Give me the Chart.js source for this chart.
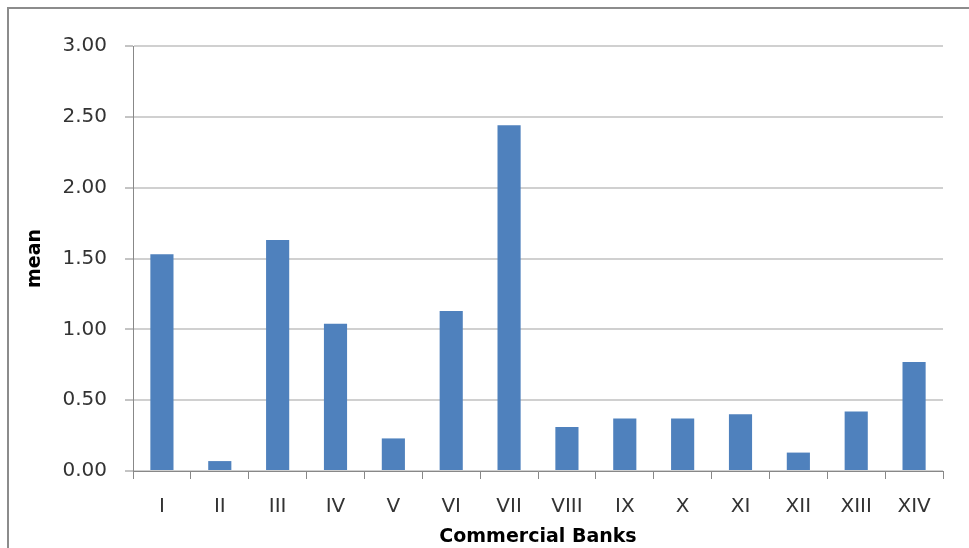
<!DOCTYPE html>
<html>
<head>
<meta charset="utf-8">
<script src="https://cdn.jsdelivr.net/npm/chart.js@4"></script>
<style>
  html, body { margin: 0; padding: 0; background: #fff; }
  #wrap { position: relative; width: 969px; height: 548px; }
  #frame {
    position: absolute; left: 7px; top: 7px; right: -5px; bottom: -5px;
    border-top: 2px solid #8c8c8c; border-left: 2px solid #8c8c8c;
    pointer-events: none;
  }
</style>
</head>
<body>
<div id="wrap">
  <canvas id="chart" width="969" height="548"></canvas>
  <div id="frame"></div>
</div>
<script>
const banks = ['I', 'II', 'III', 'IV', 'V', 'VI', 'VII', 'VIII', 'IX', 'X', 'XI', 'XII', 'XIII', 'XIV'];
const means = [1.53, 0.07, 1.63, 1.04, 0.23, 1.13, 2.44, 0.31, 0.37, 0.37, 0.40, 0.13, 0.42, 0.77];
const yTicks = [0, 0.5, 1, 1.5, 2, 2.5, 3];

const barBlue = '#4f81bd';
const axisGray = '#888888';
const gridGray = '#d0d0d0';
const labelFont = { family: 'DejaVu Sans', size: 20 };

const ctx = document.getElementById('chart').getContext('2d');
const chart = new Chart(ctx, {
    type: 'bar',
    data: {
        labels: banks,
        datasets: [{
            label: 'mean',
            data: means,
            backgroundColor: barBlue,
            barPercentage: 0.4,
            categoryPercentage: 1.0
        }]
    },
    options: {
        responsive: false,
        animation: false,
        layout: { padding: { left: 24, right: 26, top: 46, bottom: 0 } },
        plugins: {
            legend: { display: false },
            tooltip: { enabled: false }
        },
        scales: {
            x: {
                grid: {
                    offset: true,
                    drawOnChartArea: false,
                    color: axisGray,
                    tickLength: 8
                },
                border: { color: axisGray, width: 1 },
                ticks: {
                    color: '#333',
                    font: labelFont,
                    padding: 16,
                    maxRotation: 0
                },
                title: {
                    display: true,
                    text: 'Commercial Banks',
                    color: '#000',
                    font: { family: 'DejaVu Sans', size: 19, weight: 'bold' },
                    padding: { top: 0, bottom: 0 }
                },
                afterFit: s => { s.height = 77; }
            },
            y: {
                min: 0,
                max: 3,
                afterBuildTicks: s => { s.ticks = yTicks.map(v => ({ value: v })); },
                grid: {
                    color: gridGray,
                    lineWidth: 2,
                    tickColor: axisGray,
                    tickWidth: 1,
                    tickLength: 8
                },
                border: { color: axisGray, width: 1 },
                ticks: {
                    color: '#333',
                    font: labelFont,
                    padding: 18,
                    callback: v => Number(v).toFixed(2)
                },
                title: {
                    display: true,
                    text: 'mean',
                    color: '#000',
                    font: { family: 'DejaVu Sans', size: 19, weight: 'bold' },
                    padding: { top: 0, bottom: 0 }
                },
                afterFit: s => { s.width = 109; }
            }
        }
    }
});
</script>
</body>
</html>
